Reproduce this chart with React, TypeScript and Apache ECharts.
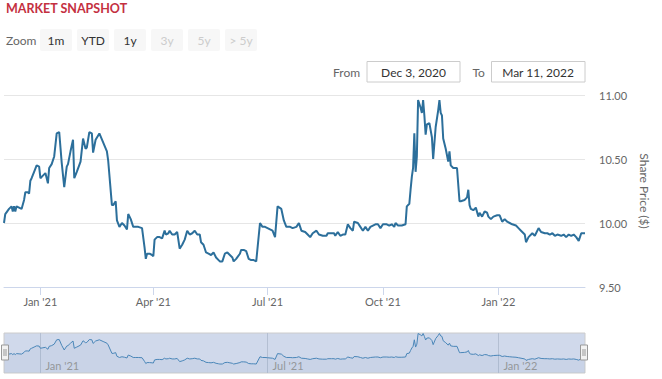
import React, { useEffect, useRef } from "react";
import * as echarts from "echarts";

const dates: string[] = [
  "2020-12-03", "2020-12-04", "2020-12-07", "2020-12-09", "2020-12-10", "2020-12-11", "2020-12-12", "2020-12-13",
  "2020-12-15", "2020-12-17", "2020-12-19", "2020-12-20", "2020-12-22", "2020-12-23", "2020-12-24", "2020-12-25",
  "2020-12-27", "2020-12-29", "2020-12-31",
  "2021-01-01", "2021-01-03", "2021-01-05", "2021-01-07", "2021-01-08", "2021-01-10", "2021-01-12", "2021-01-14",
  "2021-01-16", "2021-01-18", "2021-01-20", "2021-01-22", "2021-01-23", "2021-01-25", "2021-01-27", "2021-01-28",
  "2021-01-30",
  "2021-02-02", "2021-02-04", "2021-02-06", "2021-02-07", "2021-02-09", "2021-02-11", "2021-02-12", "2021-02-14",
  "2021-02-17", "2021-02-20", "2021-02-23", "2021-02-24", "2021-02-27", "2021-02-28",
  "2021-03-02", "2021-03-03", "2021-03-05", "2021-03-07", "2021-03-09", "2021-03-11", "2021-03-12", "2021-03-14",
  "2021-03-16", "2021-03-18", "2021-03-20", "2021-03-23", "2021-03-25", "2021-03-26", "2021-03-27", "2021-03-29",
  "2021-03-31",
  "2021-04-01", "2021-04-02", "2021-04-04", "2021-04-06", "2021-04-08", "2021-04-10", "2021-04-11", "2021-04-13",
  "2021-04-14", "2021-04-16", "2021-04-18", "2021-04-20", "2021-04-22", "2021-04-24", "2021-04-26", "2021-04-28",
  "2021-04-30",
  "2021-05-02", "2021-05-04", "2021-05-06", "2021-05-08", "2021-05-09", "2021-05-11", "2021-05-13", "2021-05-15",
  "2021-05-17", "2021-05-19", "2021-05-21", "2021-05-23", "2021-05-24", "2021-05-26", "2021-05-28", "2021-05-30",
  "2021-06-01", "2021-06-03", "2021-06-04", "2021-06-06", "2021-06-09", "2021-06-10", "2021-06-12", "2021-06-14",
  "2021-06-16", "2021-06-18", "2021-06-20", "2021-06-22", "2021-06-25", "2021-06-27", "2021-06-29",
  "2021-07-01", "2021-07-03", "2021-07-05", "2021-07-07", "2021-07-09", "2021-07-12", "2021-07-14", "2021-07-16",
  "2021-07-19", "2021-07-21", "2021-07-24", "2021-07-26", "2021-07-28", "2021-07-31",
  "2021-08-02", "2021-08-04", "2021-08-06", "2021-08-09", "2021-08-11", "2021-08-14", "2021-08-17", "2021-08-18",
  "2021-08-21", "2021-08-23", "2021-08-24", "2021-08-26", "2021-08-28", "2021-08-30",
  "2021-09-01", "2021-09-03", "2021-09-05", "2021-09-07", "2021-09-08", "2021-09-11", "2021-09-13", "2021-09-15",
  "2021-09-17", "2021-09-19", "2021-09-21", "2021-09-23", "2021-09-25", "2021-09-27", "2021-09-29",
  "2021-10-01", "2021-10-04", "2021-10-06", "2021-10-08", "2021-10-10", "2021-10-11", "2021-10-13", "2021-10-16",
  "2021-10-19", "2021-10-20", "2021-10-22", "2021-10-23", "2021-10-24", "2021-10-25", "2021-10-26", "2021-10-27",
  "2021-10-28", "2021-10-29", "2021-10-31",
  "2021-11-01", "2021-11-02", "2021-11-03", "2021-11-04", "2021-11-05", "2021-11-07", "2021-11-09", "2021-11-10",
  "2021-11-12", "2021-11-14", "2021-11-15", "2021-11-16", "2021-11-17", "2021-11-18", "2021-11-20", "2021-11-22",
  "2021-11-23", "2021-11-24", "2021-11-26", "2021-11-29",
  "2021-12-01", "2021-12-02", "2021-12-05", "2021-12-07", "2021-12-08", "2021-12-09", "2021-12-10", "2021-12-12",
  "2021-12-14", "2021-12-16", "2021-12-17", "2021-12-19", "2021-12-21", "2021-12-23", "2021-12-24", "2021-12-26",
  "2021-12-28", "2021-12-31",
  "2022-01-02", "2022-01-04", "2022-01-06", "2022-01-08", "2022-01-10", "2022-01-12", "2022-01-15", "2022-01-17",
  "2022-01-19", "2022-01-22", "2022-01-23", "2022-01-25", "2022-01-28", "2022-01-30", "2022-01-31",
  "2022-02-02", "2022-02-04", "2022-02-07", "2022-02-09", "2022-02-11", "2022-02-13", "2022-02-15", "2022-02-17",
  "2022-02-20", "2022-02-22", "2022-02-24", "2022-02-26", "2022-02-28",
  "2022-03-02", "2022-03-04", "2022-03-06", "2022-03-08", "2022-03-11",
];

const prices: number[] = [
  10.0, 10.07, 10.11, 10.13, 10.09, 10.13, 10.09, 10.13,
  10.12, 10.11, 10.18, 10.24, 10.24, 10.23, 10.33, 10.35,
  10.4, 10.45, 10.44,
  10.35, 10.37, 10.39, 10.31, 10.43, 10.46, 10.52, 10.7,
  10.71, 10.47, 10.28, 10.44, 10.46, 10.56, 10.65, 10.35,
  10.4,
  10.48, 10.66, 10.58, 10.59, 10.71, 10.7, 10.55, 10.65,
  10.7, 10.63, 10.56, 10.49, 10.14, 10.14,
  10.17, 10.02, 9.97, 10.0, 9.98, 9.95, 10.07, 10.03,
  9.97, 9.97, 9.97, 9.96, 9.81, 9.72, 9.76, 9.76,
  9.75,
  9.74, 9.87, 9.89, 9.89, 9.88, 9.94, 9.91, 9.92,
  9.94, 9.91, 9.91, 9.93, 9.8, 9.83, 9.87, 9.94,
  9.91,
  9.92, 9.94, 9.91, 9.91, 9.85, 9.83, 9.77, 9.76,
  9.75, 9.77, 9.73, 9.71, 9.7, 9.7, 9.76, 9.77,
  9.75, 9.73, 9.7, 9.72, 9.76, 9.79, 9.79, 9.78,
  9.72, 9.71, 9.71, 9.7, 10.0, 9.97, 9.97,
  9.96, 9.95, 9.94, 9.89, 10.13, 10.11, 10.02, 9.97,
  9.97, 9.96, 9.97, 10.0, 9.94, 9.93,
  9.91, 9.89, 9.92, 9.94, 9.91, 9.9, 9.9, 9.92,
  9.92, 9.92, 9.9, 9.93, 9.9, 9.91,
  9.91, 9.99, 9.96, 9.94, 10.01, 10.0, 9.97, 9.94,
  9.97, 9.94, 9.97, 9.98, 9.99, 9.99, 9.96,
  9.99, 9.99, 9.98, 9.99, 9.97, 10.0, 9.98, 9.98,
  9.99, 10.13, 10.15, 10.26, 10.36, 10.43, 10.7, 10.4,
  10.52, 10.96, 10.9,
  10.86, 10.96, 10.84, 10.69, 10.77, 10.78, 10.67, 10.5,
  10.75, 10.88, 10.96, 10.86, 10.84, 10.66, 10.58, 10.48,
  10.56, 10.45, 10.43, 10.43,
  10.17, 10.17, 10.18, 10.2, 10.26, 10.14, 10.11, 10.1,
  10.12, 10.05, 10.08, 10.05, 10.09, 10.08, 10.05, 10.03,
  10.05, 10.06,
  10.06, 10.01, 10.03, 10.01, 10.0, 9.99, 9.98, 9.96,
  9.94, 9.91, 9.85, 9.89, 9.92, 9.9, 9.92,
  9.96, 9.93, 9.92, 9.92, 9.91, 9.92, 9.9, 9.91,
  9.9, 9.91, 9.89, 9.91, 9.9,
  9.91, 9.89, 9.86, 9.92, 9.92,
];

const rangeStart = "2020-12-03";
const rangeEnd = "2022-03-11";
const mainTickDates: string[] = ["2021-01-01", "2021-04-01", "2021-07-01", "2021-10-01", "2022-01-01"];
const navTickDates: string[] = ["2021-01-01", "2021-07-01", "2022-01-01"];
const yTicks = { min: 9.5, max: 11, step: 0.5 };
const zoomButtons: { label: string; enabled: boolean }[] = [
  { label: "1m", enabled: true },
  { label: "YTD", enabled: true },
  { label: "1y", enabled: true },
  { label: "3y", enabled: false },
  { label: "5y", enabled: false },
  { label: "> 5y", enabled: false },
];
const fromLabel = "Dec 3, 2020";
const toLabel = "Mar 11, 2022";
const MONTHS = ["Jan", "Feb", "Mar", "Apr", "May", "Jun", "Jul", "Aug", "Sep", "Oct", "Nov", "Dec"];

const toTs = (s: string) => {
  const [y, m, d] = s.split("-").map(Number);
  return new Date(y, m - 1, d).getTime();
};
const fmtDate = (v: number) => {
  const d = new Date(v);
  return `${MONTHS[d.getMonth()]} '${String(d.getFullYear()).slice(2)}`;
};

const FONT = "Lato, 'Open Sans', sans-serif";

export default function App() {
  const ref = useRef<HTMLDivElement>(null);

  useEffect(() => {
    if (!ref.current) return;
    const chart = echarts.init(ref.current, undefined, { renderer: "svg" });
    const seriesData = dates.map((d, i) => [toTs(d), prices[i]]);
    const minTs = toTs(rangeStart);
    const maxTs = toTs(rangeEnd);

    const graphics: any[] = [
      {
        type: "text",
        x: 6,
        y: 8,
        style: { text: "MARKET SNAPSHOT", font: `bold 12.5px ${FONT}`, fill: "#c4303f", verticalAlign: "middle" },
      },
      {
        type: "text",
        x: 6,
        y: 40,
        style: { text: "Zoom", font: `12px ${FONT}`, fill: "#666666", verticalAlign: "middle" },
      },
    ];
    zoomButtons.forEach((b, i) => {
      const x = 40 + i * 37;
      graphics.push({
        type: "rect",
        shape: { x, y: 29, width: 32, height: 22, r: 2 },
        style: { fill: "#f7f7f7" },
      });
      graphics.push({
        type: "text",
        x: x + 16,
        y: 40,
        style: {
          text: b.label,
          font: `12px ${FONT}`,
          fill: b.enabled ? "#333333" : "#cccccc",
          align: "center",
          verticalAlign: "middle",
        },
      });
    });
    graphics.push(
      { type: "text", x: 333, y: 72, style: { text: "From", font: `12px ${FONT}`, fill: "#666666", verticalAlign: "middle" } },
      { type: "rect", shape: { x: 367, y: 61.5, width: 93, height: 20.5 }, style: { fill: "#ffffff", stroke: "#cccccc", lineWidth: 1 } },
      { type: "text", x: 413.5, y: 72, style: { text: fromLabel, font: `12px ${FONT}`, fill: "#333333", align: "center", verticalAlign: "middle" } },
      { type: "text", x: 472.5, y: 72, style: { text: "To", font: `12px ${FONT}`, fill: "#666666", verticalAlign: "middle" } },
      { type: "rect", shape: { x: 491.5, y: 61.5, width: 93.5, height: 20.5 }, style: { fill: "#ffffff", stroke: "#cccccc", lineWidth: 1 } },
      { type: "text", x: 538, y: 72, style: { text: toLabel, font: `12px ${FONT}`, fill: "#333333", align: "center", verticalAlign: "middle" } }
    );
    [1.5, 580.5].forEach((hx) => {
      graphics.push(
        { type: "rect", z: 100, shape: { x: hx, y: 345, width: 7, height: 15 }, style: { fill: "#f2f2f2", stroke: "#999999", lineWidth: 1 } },
        { type: "line", z: 101, shape: { x1: hx + 2.5, y1: 349, x2: hx + 2.5, y2: 356 }, style: { stroke: "#999999", lineWidth: 1 } },
        { type: "line", z: 101, shape: { x1: hx + 4.5, y1: 349, x2: hx + 4.5, y2: 356 }, style: { stroke: "#999999", lineWidth: 1 } }
      );
    });

    chart.setOption({
      animation: false,
      textStyle: { fontFamily: FONT },
      grid: [
        { left: 4, right: 77, top: 95, height: 192 },
        {
          left: 4,
          right: 77,
          top: 333,
          height: 40,
          show: true,
          backgroundColor: "#d0d9eb",
          borderColor: "#cccccc",
          borderWidth: 1,
        },
      ],
      xAxis: [
        {
          type: "value",
          gridIndex: 0,
          min: minTs,
          max: maxTs,
          axisLine: { lineStyle: { color: "#ccd6eb" } },
          axisTick: { show: true, customValues: mainTickDates.map(toTs), length: 8, lineStyle: { color: "#ccd6eb" } },
          axisLabel: {
            customValues: mainTickDates.map(toTs),
            formatter: (v: number) => fmtDate(v),
            color: "#666666",
            fontSize: 11,
            margin: 9,
            fontFamily: FONT,
          },
          splitLine: { show: false },
        },
        {
          type: "value",
          gridIndex: 1,
          min: minTs,
          max: maxTs,
          axisLine: { show: false },
          axisTick: {
            show: true,
            inside: true,
            customValues: navTickDates.map(toTs),
            length: 40,
            lineStyle: { color: "#b4bfd2" },
          },
          axisLabel: {
            inside: true,
            customValues: navTickDates.map(toTs),
            formatter: (v: number) => fmtDate(v),
            color: "#999999",
            fontSize: 11,
            margin: 2,
            align: "left",
            padding: [0, 0, 0, 5],
            fontFamily: FONT,
          },
          splitLine: { show: false },
        },
      ],
      yAxis: [
        {
          type: "value",
          gridIndex: 0,
          position: "right",
          min: yTicks.min,
          max: yTicks.max,
          interval: yTicks.step,
          name: "Share Price ($)",
          nameLocation: "middle",
          nameRotate: -90,
          nameGap: 48,
          nameTextStyle: { color: "#666666", fontSize: 12, fontFamily: FONT },
          axisLine: { show: false },
          axisTick: { show: false },
          axisLabel: {
            color: "#666666",
            fontSize: 11,
            margin: 14,
            fontFamily: FONT,
            formatter: (v: number) => v.toFixed(2),
          },
          splitLine: { lineStyle: { color: "#e6e6e6" } },
        },
        {
          type: "value",
          gridIndex: 1,
          min: 9.33,
          max: 10.98,
          show: false,
          splitLine: { show: false },
        },
      ],
      series: [
        {
          type: "line",
          xAxisIndex: 0,
          yAxisIndex: 0,
          data: seriesData,
          showSymbol: false,
          lineStyle: { color: "#2c6f9b", width: 2 },
          itemStyle: { color: "#2c6f9b" },
        },
        {
          type: "line",
          xAxisIndex: 1,
          yAxisIndex: 1,
          data: seriesData,
          showSymbol: false,
          lineStyle: { color: "#4a86b8", width: 1 },
          areaStyle: { color: "rgba(60,110,170,0.07)" },
          itemStyle: { color: "#4a86b8" },
        },
      ],
      graphic: graphics,
    });

    return () => chart.dispose();
  }, []);

  return (
    <div style={{ position: "fixed", left: 0, top: 0, width: 662, height: 379, background: "#ffffff" }}>
      <div ref={ref} style={{ width: 662, height: 379 }} />
    </div>
  );
}
